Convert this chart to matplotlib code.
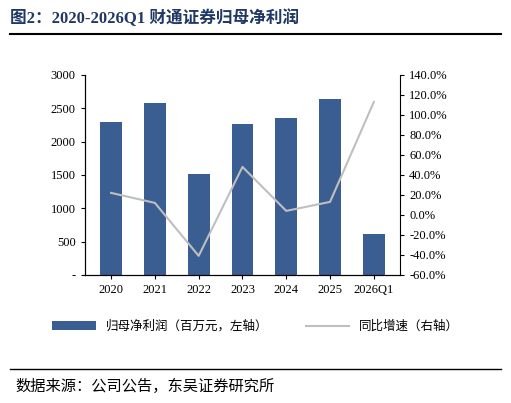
import numpy as np
import matplotlib.pyplot as plt
from matplotlib.ticker import FuncFormatter

plt.rcParams['font.family'] = ['Noto Sans CJK SC', 'DejaVu Sans']
serif = ['Liberation Serif', 'Noto Sans CJK SC']

years = ['2020', '2021', '2022', '2023', '2024', '2025', '2026Q1']
profit = [2300, 2580, 1520, 2260, 2350, 2640, 620]
growth = [22.0, 12.0, -41.0, 48.0, 4.0, 13.0, 113.0]

fig = plt.figure(figsize=(5.11, 4.03), dpi=100)
ax = fig.add_axes([0.166, 0.318, 0.617, 0.496])
ax2 = ax.twinx()

x = np.arange(len(years))
ax.bar(x, profit, width=0.5, color='#3a5e92', label='归母净利润（百万元，左轴）')
ax2.plot(x, growth, color='#bfbfbf', lw=1.5, label='同比增速（右轴）')

ax.set_ylim(0, 3000)
ax.set_yticks(range(0, 3001, 500))
ax.yaxis.set_major_formatter(FuncFormatter(lambda v, p: '-' if v == 0 else f'{int(v)}'))
ax2.set_ylim(-60, 140)
ax2.set_yticks(range(-60, 141, 20))
ax2.yaxis.set_major_formatter(FuncFormatter(lambda v, p: f'{v:.1f}%'))
ax.set_xticks(x)
ax.set_xticklabels(years, family=serif)
ax.set_xlim(-0.6, 6.6)

for a in (ax, ax2):
    a.spines['top'].set_visible(False)
    a.tick_params(labelsize=9, length=3)
    for lbl in a.get_yticklabels():
        lbl.set_family(serif)
ax.spines['right'].set_visible(False)

h1, l1 = ax.get_legend_handles_labels()
h2, l2 = ax2.get_legend_handles_labels()
fig.legend(h1 + h2, l1 + l2, loc='center', bbox_to_anchor=(0.5, 0.19), ncol=2,
           frameon=False, fontsize=9, handlelength=3.5, columnspacing=3)

fig.text(0.02, 0.955, '图2：2020-2026Q1 财通证券归母净利润', fontsize=12, fontweight='bold',
         va='center', color='#1f3864', family=serif)
fig.add_artist(plt.Line2D([0.02, 0.98], [0.915, 0.915], color='black', lw=1.5))
fig.add_artist(plt.Line2D([0.02, 0.98], [0.085, 0.085], color='black', lw=1))
fig.text(0.03, 0.04, '数据来源：公司公告，东吴证券研究所', fontsize=11, va='center')

fig.savefig('out.png', dpi=100)
